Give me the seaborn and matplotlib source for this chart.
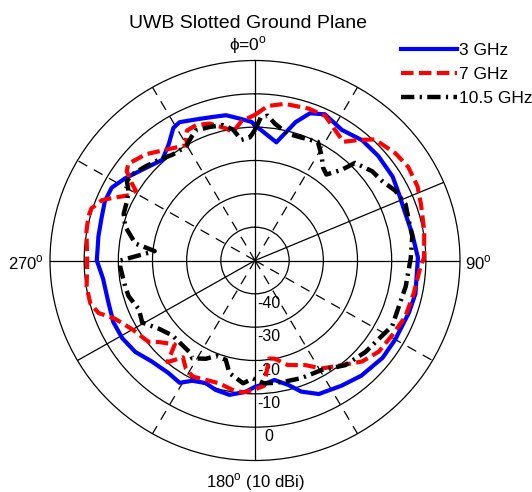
import numpy as np
import matplotlib
matplotlib.use("Agg")
import matplotlib.pyplot as plt
import matplotlib.transforms as mtransforms
from matplotlib.lines import Line2D
import seaborn as sns

plt.rcParams['font.family'] = ['Liberation Sans', 'DejaVu Sans']
plt.rcParams['mathtext.fontset'] = 'custom'
plt.rcParams['mathtext.rm'] = 'Liberation Sans'

# ---------------- data (angle in degrees, gain in dBi) ----------------
series_names = ['3 GHz', '7 GHz', '10.5 GHz']

ghz3_deg = [0, 10, 16, 20, 25, 33, 41, 49, 58, 65, 72, 80, 89, 102, 109, 120, 128,
            138, 146, 155, 161, 165.5, 171, 177, 180, 184, 190.5, 196.5, 201.5, 207,
            211, 217, 225, 232, 239, 246, 254, 263, 270, 279, 286, 292, 297.5, 303,
            309.5, 318, 324, 329, 332, 339, 344, 349, 354, 358.6]
ghz3_db = [-9.4, -14, -6.8, -3, -1.6, -3.3, -2.2, -2.2, -2.5, -3.4, -3.8, -3.3, -2.3,
           -2.0, -2.3, -2.6, -2.6, -3.5, -4.7, -5.8, -8.4, -11.5, -13.7, -12.6, -12.1,
           -10.5, -9, -9.5, -10.5, -9.5, -7.2, -7.8, -7.2, -5.5, -4.7, -4.6, -5.3, -5.2,
           -3.7, -3.6, -3.3, -2.6, -2.7, -4.7, -7.2, -9.4, -7.0, -3.6, -3.0, -4.5, -5.2,
           -5.6, -7.2, -8.4]

ghz7_deg = [0, 4.6, 10.5, 19, 25.4, 31, 36, 40, 44, 52, 58, 65, 71, 80, 89, 92, 102,
            111, 119, 127, 134, 141, 149, 155, 163, 169, 172, 176, 181, 185, 189, 196,
            202, 207.6, 212, 216, 220, 223, 229, 232, 240, 247, 251, 255, 261, 270, 280,
            285, 288, 292, 294, 298, 301, 302.5, 305.5, 308, 315, 322, 330.4, 331, 333,
            337, 342, 348, 350.4, 354.6]
ghz7_db = [-6.3, -3.5, -2.2, -1.8, -2, -4.4, -6, -2.8, 0.5, 2.2, 2.9, 2.5, 1.4, 0.3,
           -0.5, -1.5, -2.5, -2.9, -4, -4.6, -6.4, -9.6, -12.2, -15.4, -17.2, -20, -20.3,
           -12.3, -11.1, -10.3, -10.5, -11.7, -11.4, -10.7, -11.8, -14.1, -10.2, -15.6,
           -12.7, -10.4, -8.6, -5.4, -1.6, -0.1, -0.1, -0.9, 0.1, 0.5, 0.4, -1.7, -4,
           -8.3, -9.3, -7.4, -3.9, -2.9, -4.9, -7.8, -10.1, -8.2, -6.2, -5.9, -6.8, -9.5,
           -11, -8]

ghz105_deg = [0, 2.3, 4.9, 8, 14, 21.6, 27.3, 31.5, 35.7, 39, 43, 45, 52, 57.4, 63, 69,
              75, 81, 89, 100, 108, 116, 123, 130.4, 140, 149.4, 159, 165, 171, 176, 181,
              185.4, 192.5, 196, 201.7, 206, 212, 215, 227, 234, 240.6, 246.7, 253.8,
              258.5, 267.3, 270, 275.5, 278.3, 285, 290, 295.5, 299.4, 302.4, 305.6,
              311.4, 317, 322.7, 329.4, 334, 336, 341.6, 347, 350.7, 353.7, 357.7]
ghz105_db = [-10.8, -7, -6.4, -8.5, -10.8, -10.6, -9.9, -12.8, -15.8, -16.8, -12.8,
             -8.6, -6.5, -5.8, -3.9, -2.8, -3.4, -3.4, -4.4, -5.2, -5.7, -5.3, -6.8, -7.6,
             -9, -11.8, -12.2, -12.6, -12.8, -13.1, -14.6, -13, -15.4, -19, -19.2, -17.2,
             -15.4, -16.5, -17, -15.2, -12.1, -13, -11.5, -11.2, -10.5, -10.6, -20.5,
             -14.6, -10.7, -9.1, -8.5, -7.5, -5.6, -5.7, -7.3, -8.7, -10.1, -10.3, -8.2,
             -7.3, -7.8, -8.3, -10.2, -13.6, -13]

ring_values = [-40, -30, -20, -10, 0]
ring_labels = ['-40', '-30', '-20', '-10', '0']
r_min, r_max = -50, 10

# ---------------- figure ----------------
W, H = 532, 492
fig = plt.figure(figsize=(W / 100, H / 100), dpi=100)
cx, cy, rx, ry = 255, 260.5, 205, 200
ax = fig.add_axes([(cx - rx) / W, (H - cy - ry) / H, 2 * rx / W, 2 * ry / H],
                  projection='polar')
ax.set_aspect('auto')
ax.set_theta_zero_location('N')
ax.set_theta_direction(-1)

# grid rings
ax.set_yticks(ring_values)
ax.set_yticklabels([])
ax.set_xticks([])
ax.yaxis.grid(True, color='black', lw=0.9)
ax.xaxis.grid(False)
ax.spines['polar'].set_color('black')
ax.spines['polar'].set_linewidth(0.9)

# radial lines
for a in [0, 90, 180, 270, 67, 240]:
    ax.plot([np.deg2rad(a)] * 2, [r_min, r_max], color='black', lw=0.9, zorder=1)
for a in [30, 120, 150, 210, 300, 330]:
    ax.plot([np.deg2rad(a)] * 2, [r_min, r_max], color='black', lw=0.9,
            ls=(0, (8, 6)), zorder=1)

styles = {
    '3 GHz': dict(color='#0000ff', lw=3.0, ls='-'),
    '7 GHz': dict(color='#ff0000', lw=3.0, ls=(0, (3, 1.3))),
    '10.5 GHz': dict(color='black', lw=3.2, ls=(0, (3, 1.2, 0.5, 1.2))),
}
data = {'3 GHz': (ghz3_deg, ghz3_db), '7 GHz': (ghz7_deg, ghz7_db),
        '10.5 GHz': (ghz105_deg, ghz105_db)}

for name in series_names:
    deg, db = data[name]
    th = np.deg2rad(list(deg) + [deg[0] + 360])
    rr = list(db) + [db[0]]
    st = styles[name]
    sns.lineplot(x=th, y=rr, ax=ax, sort=False, estimator=None,
                 color=st['color'], linewidth=st['lw'], linestyle=st['ls'], zorder=3)

ax.set_ylim(r_min, r_max)
ax.set_xlabel('')
ax.set_ylabel('')
if ax.get_legend() is not None:
    ax.get_legend().remove()

# ring labels (offset right of the 180 axis)
off = mtransforms.ScaledTranslation(14 / 100, 0, fig.dpi_scale_trans)
for v, lab in zip(ring_values, ring_labels):
    ax.text(np.pi, v + 2.9, lab, transform=ax.transData + off, ha='center',
            va='center', fontsize=11.5, color='black', zorder=2)

def fx(x):
    return x / W

def fy(y):
    return 1 - y / H

deg = r'$^{\mathrm{o}}$'
fig.text(fx(248), fy(28.5), 'UWB Slotted Ground Plane', ha='center', va='baseline',
         fontsize=14)
fig.text(fx(248), fy(50), 'ϕ=0' + deg, ha='center', va='baseline', fontsize=12.5)
fig.text(fx(8), fy(269.5), '270' + deg, ha='left', va='baseline', fontsize=12)
fig.text(fx(465), fy(269.5), '90' + deg, ha='left', va='baseline', fontsize=12)
fig.text(fx(255), fy(487), '180' + deg + ' (10 dBi)', ha='center', va='baseline',
         fontsize=12)

handles = [Line2D([], [], color=styles[n]['color'], lw=styles[n]['lw'],
                  ls=styles[n]['ls']) for n in series_names]
fig.legend(handles, series_names, loc='upper left', bbox_to_anchor=(fx(401), fy(43)),
           frameon=False, fontsize=12.5, handlelength=3.2, handletextpad=0.15,
           labelspacing=0.5, borderpad=0, borderaxespad=0)

fig.savefig('out.png', dpi=100)
